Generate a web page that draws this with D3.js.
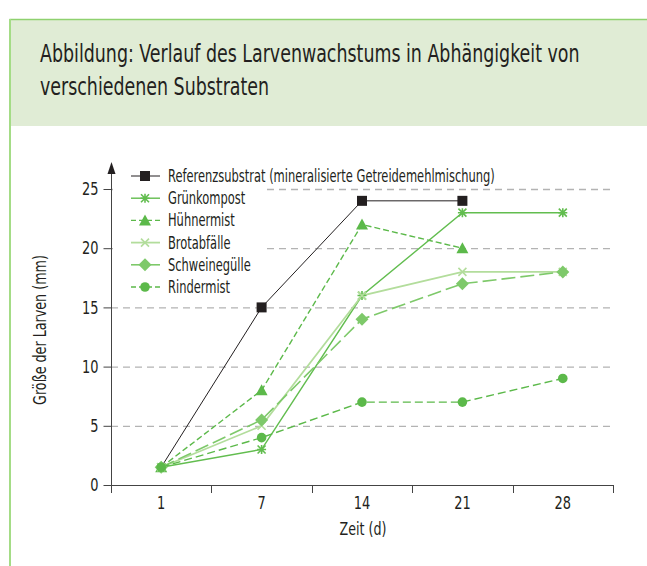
<!DOCTYPE html>
<html>
<head>
<meta charset="utf-8">
<script src="https://cdn.jsdelivr.net/npm/d3@7"></script>
<style>
  body { margin: 0; background: #fff; }
  svg { display: block; }
  text { font-family: "DejaVu Sans Condensed", "DejaVu Sans", sans-serif; font-stretch: condensed; fill: #231f20; }
</style>
</head>
<body>
<div id="chart"></div>
<script>
// days on the x axis
const days = ["1", "7", "14", "21", "28"];
// larval size (mm) per substrate
const referenz = [1.5, 15, 24, 24, null];
const gruenkompost = [1.5, 3, 16, 23, 23];
const huehnermist = [1.5, 8, 22, 20, null];
const brotabfaelle = [1.5, 5, 16, 18, 18];
const schweineguelle = [1.5, 5.5, 14, 17, 18];
const rindermist = [1.5, 4, 7, 7, 9];
const yTicks = [0, 5, 10, 15, 20, 25];

const width = 647, height = 566;

const svg = d3.select("#chart").append("svg")
    .attr("width", width)
    .attr("height", height);

// squeeze a text horizontally around its anchor x so it takes a given width
function squeeze(sel, ax, factor) {
    sel.attr("transform", `translate(${ax},0) scale(${factor},1) translate(${-ax},0)`);
}

// header panel
svg.append("rect")
    .attr("x", 10).attr("y", 19)
    .attr("width", width - 10).attr("height", 107)
    .attr("fill", "#e0ecd5");
svg.append("line")
    .attr("x1", 9.5).attr("x2", width).attr("y1", 19.5).attr("y2", 19.5)
    .attr("stroke", "#8fd16f").attr("stroke-width", 1.5);
svg.append("line")
    .attr("x1", 10).attr("x2", 10).attr("y1", 19).attr("y2", height)
    .attr("stroke", "#a4dc86").attr("stroke-width", 2);

const title = svg.append("text")
    .attr("x", 40).attr("y", 62)
    .style("font-size", "24px");
const t1 = title.append("tspan").attr("x", 40).attr("y", 62)
    .text("Abbildung: Verlauf des Larvenwachstums in Abhängigkeit von");
title.append("tspan").attr("x", 40).attr("y", 95)
    .text("verschiedenen Substraten");
squeeze(title, 40, 540 / t1.node().getComputedTextLength());

// scales
const x = d3.scaleBand().domain(days).range([111, 613]);
const y = d3.scaleLinear().domain([0, 25]).range([485, 189]);

// gridlines
svg.append("g")
    .selectAll("line")
    .data(yTicks.filter(d => d > 0))
    .join("line")
    .attr("x1", 111).attr("x2", 613)
    .attr("y1", d => y(d) + 0.5).attr("y2", d => y(d) + 0.5)
    .attr("stroke", "#b3b3b3")
    .attr("stroke-width", 1.3)
    .attr("stroke-dasharray", "7,5");

// white box under legend
svg.append("rect")
    .attr("x", 113).attr("y", 164)
    .attr("width", 150).attr("height", 133)
    .attr("fill", "#fff");

// y axis
const yAxis = svg.append("g")
    .attr("transform", "translate(111.5,0)")
    .call(d3.axisLeft(y).tickValues(yTicks).tickSize(8).tickPadding(5));
yAxis.select(".domain").remove();
yAxis.selectAll(".tick line").attr("stroke", "#444");
yAxis.selectAll("text").style("font-size", "18px").attr("fill", "#231f20")
    .each(function () { squeeze(d3.select(this), -13, 0.8); });
svg.append("line")
    .attr("x1", 111.5).attr("x2", 111.5)
    .attr("y1", 491).attr("y2", 172)
    .attr("stroke", "#444");
svg.append("path")
    .attr("d", "M107.5,174 L111.5,162 L115.5,174 Z")
    .attr("fill", "#231f20");

// x axis
const xAxis = svg.append("g")
    .attr("transform", "translate(0,485.5)")
    .call(d3.axisBottom(x).tickSize(0).tickPadding(11));
xAxis.select(".domain").attr("stroke", "#444").attr("d", "M105,0H613.5");
xAxis.selectAll("text").style("font-size", "18px").attr("fill", "#231f20")
    .each(function () { squeeze(d3.select(this), 0, 0.8); });
svg.append("g")
    .selectAll("line")
    .data(days.map(d => x(d)).concat([x.range()[1]]))
    .join("line")
    .attr("x1", d => Math.round(d) + 0.5).attr("x2", d => Math.round(d) + 0.5)
    .attr("y1", 485).attr("y2", 493)
    .attr("stroke", "#444");

const xLabel = svg.append("text")
    .attr("x", 363).attr("y", 535)
    .attr("text-anchor", "middle")
    .style("font-size", "18px")
    .text("Zeit (d)");
squeeze(xLabel, 363, 47 / xLabel.node().getComputedTextLength());
const yLabel = svg.append("text")
    .attr("x", 0).attr("y", 0)
    .attr("text-anchor", "middle")
    .style("font-size", "18px")
    .text("Größe der Larven (mm)");
yLabel.attr("transform", `translate(46,330) rotate(-90) scale(${150 / yLabel.node().getComputedTextLength()},1)`);

// series definitions
const series = [
    { name: "Referenzsubstrat (mineralisierte Getreidemehlmischung)", values: referenz, color: "#231f20", width: 1, dash: null, legendDash: null, marker: "square", skipFirst: true },
    { name: "Grünkompost", values: gruenkompost, color: "#62bd4f", width: 1.4, dash: null, legendDash: null, marker: "asterisk" },
    { name: "Hühnermist", values: huehnermist, color: "#5cb94a", width: 1.4, dash: "6,3", legendDash: "5,3", marker: "triangle" },
    { name: "Brotabfälle", values: brotabfaelle, color: "#b3dd9c", width: 1.8, dash: null, legendDash: null, marker: "cross" },
    { name: "Schweinegülle", values: schweineguelle, color: "#7ec96a", width: 1.6, dash: "14,5", legendDash: null, marker: "diamond" },
    { name: "Rindermist", values: rindermist, color: "#5cb94a", width: 1.4, dash: "8,4", legendDash: "5,3", marker: "circle" }
];

const cx = d => x(d) + x.bandwidth() / 2;

function drawMarker(g, type, color) {
    if (type === "square") {
        g.append("rect").attr("x", -5).attr("y", -5).attr("width", 10).attr("height", 10).attr("fill", color);
    } else if (type === "triangle") {
        g.append("path").attr("d", "M0,-6 L6,5 L-6,5 Z").attr("fill", color);
    } else if (type === "diamond") {
        g.append("path").attr("d", "M0,-6.5 L6.5,0 L0,6.5 L-6.5,0 Z").attr("fill", color);
    } else if (type === "circle") {
        g.append("circle").attr("r", 4.8).attr("fill", color);
    } else if (type === "asterisk") {
        g.append("path").attr("d", "M-4,-4L4,4M-4,4L4,-4M-4.5,0H4.5M0,-4.5V4.5")
            .attr("stroke", color).attr("stroke-width", 1.6).attr("fill", "none");
    } else if (type === "cross") {
        g.append("path").attr("d", "M-4,-4L4,4M-4,4L4,-4")
            .attr("stroke", color).attr("stroke-width", 1.6).attr("fill", "none");
    }
}

const line = d3.line()
    .defined(d => d.v !== null)
    .x(d => cx(d.day))
    .y(d => y(d.v));

series.forEach(s => {
    const pts = days.map((d, i) => ({ day: d, v: s.values[i] }));
    svg.append("path")
        .datum(pts)
        .attr("d", line)
        .attr("fill", "none")
        .attr("stroke", s.color)
        .attr("stroke-width", s.width)
        .attr("stroke-dasharray", s.dash);
});
// markers drawn on top
series.forEach(s => {
    days.forEach((d, i) => {
        if (s.values[i] === null) return;
        if (s.skipFirst && i === 0) return;
        const g = svg.append("g").attr("transform", `translate(${cx(d)},${y(s.values[i])})`);
        drawMarker(g, s.marker, s.color);
    });
});

// legend
const legend = svg.append("g");
let legendFactor = 1;
series.forEach((s, i) => {
    const ly = 176 + i * 22.2;
    legend.append("line")
        .attr("x1", 131).attr("x2", 160)
        .attr("y1", ly).attr("y2", ly)
        .attr("stroke", s.color)
        .attr("stroke-width", s.width)
        .attr("stroke-dasharray", s.legendDash);
    drawMarker(legend.append("g").attr("transform", `translate(145,${ly})`), s.marker, s.color);
    const t = legend.append("text")
        .attr("x", 168).attr("y", ly + 6)
        .style("font-size", "17px")
        .text(s.name);
    if (i === 0) legendFactor = 327 / t.node().getComputedTextLength();
    squeeze(t, 168, legendFactor);
});
</script>
</body>
</html>
